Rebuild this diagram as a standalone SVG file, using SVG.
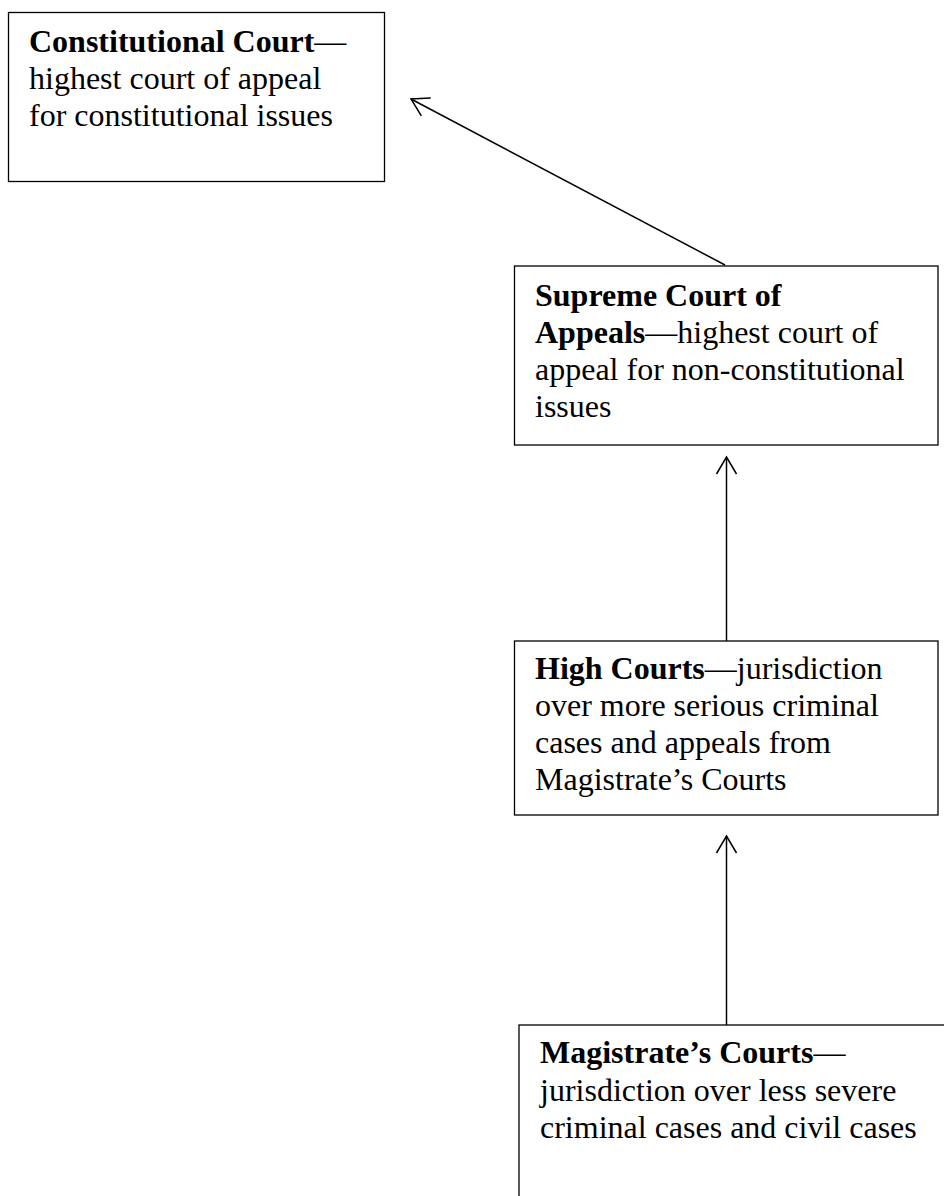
<svg xmlns="http://www.w3.org/2000/svg" width="944" height="1196" viewBox="0 0 944 1196">
<style>
.box{fill:#fff;stroke:#000;stroke-width:1.3}
.t{font-family:"Liberation Serif","Times New Roman",serif;font-size:32px;fill:#000}
.b{font-weight:bold}
.con{stroke:#000;stroke-width:1.5;fill:none}
</style>
<defs>
<marker id="arr" markerUnits="userSpaceOnUse" markerWidth="40" markerHeight="40" viewBox="-20 -20 40 40" refX="0" refY="0" orient="auto">
<path d="M-17,-10 L0,0 L-17,10" fill="none" stroke="#000" stroke-width="1.5"/>
</marker>
</defs>
<rect width="944" height="1196" fill="#fff"/>
<g id="connectors">
<line class="con" x1="725" y1="265" x2="411" y2="99" marker-end="url(#arr)"/>
<line class="con" x1="726.5" y1="641" x2="726.5" y2="457" marker-end="url(#arr)"/>
<line class="con" x1="726.5" y1="1025" x2="726.5" y2="836" marker-end="url(#arr)"/>
</g>
<g id="constitutional-court">
<rect class="box" x="8.5" y="12.5" width="376" height="169"/>
<text class="t" x="29" y="52"><tspan class="b">Constitutional Court</tspan>—</text>
<text class="t" x="29" y="89">highest court of appeal</text>
<text class="t" x="29" y="126">for constitutional issues</text>
</g>
<g id="supreme-court">
<rect class="box" x="514.5" y="266" width="423.5" height="179"/>
<text class="t" x="535" y="306"><tspan class="b">Supreme Court of</tspan></text>
<text class="t" x="535" y="343"><tspan class="b">Appeals</tspan>—highest court of</text>
<text class="t" x="535" y="380">appeal for non-constitutional</text>
<text class="t" x="535" y="417">issues</text>
</g>
<g id="high-courts">
<rect class="box" x="514.5" y="641" width="423.5" height="174"/>
<text class="t" x="535" y="679"><tspan class="b">High Courts</tspan>—jurisdiction</text>
<text class="t" x="535" y="716">over more serious criminal</text>
<text class="t" x="535" y="753">cases and appeals from</text>
<text class="t" x="535" y="790">Magistrate’s Courts</text>
</g>
<g id="magistrates-courts">
<rect class="box" x="519" y="1025" width="440" height="200"/>
<text class="t" x="540" y="1063"><tspan class="b">Magistrate’s Courts</tspan>—</text>
<text class="t" x="540" y="1101">jurisdiction over less severe</text>
<text class="t" x="540" y="1138">criminal cases and civil cases</text>
</g>
</svg>
